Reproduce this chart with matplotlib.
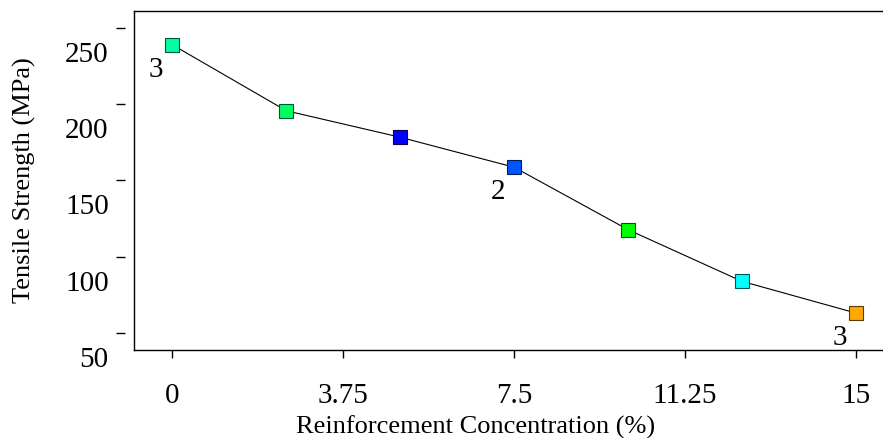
import matplotlib
matplotlib.use("Agg")
import matplotlib.pyplot as plt
import matplotlib.transforms as mtransforms
import matplotlib.colors as mcolors

# data
concentration = [0, 2.5, 5, 7.5, 10, 12.5, 15]
strength = [239.0, 195.7, 178.3, 158.6, 117.6, 83.7, 62.9]
point_colors = ["#00FFA0", "#00FF66", "#0000FF", "#0055FF", "#00FF00", "#00FFFF", "#FFAA00"]
x_ticks = [0, 3.75, 7.5, 11.25, 15]
x_tick_labels = ["0", "3.75", "7.5", "11.25", "15"]
y_ticks = [50, 100, 150, 200, 250]
# replicate counts written next to some points
rep_index = [0, 3, 6]
rep_text = ["3", "2", "3"]

FS = 21
plt.rcParams["font.family"] = ["Liberation Serif", "DejaVu Serif"]

fig = plt.figure(figsize=(8.83, 4.39), dpi=100)
ax = fig.add_axes([134.3 / 883, 1 - 350.5 / 439, 1 - 134.3 / 883, (350.5 - 12.3) / 439])

# connecting line
ax.plot(concentration, strength, color="black", lw=0.8, zorder=2)

# coloured square markers
for x, y, c in zip(concentration, strength, point_colors):
    edge = tuple(v * 0.35 for v in mcolors.to_rgb(c))
    ax.plot(x, y, "s", ms=9.5, mfc=c, mec=edge, mew=0.8, zorder=3)

# replicate labels
for i, t in zip(rep_index, rep_text):
    ax.annotate(t, (concentration[i], strength[i]), xytext=(-16.5, -24),
                textcoords="offset pixels", ha="center", va="center", fontsize=FS)

ax.set_xlim(-0.834, 15.59)
ax.set_ylim(39.0, 260.96)

ax.set_xticks(x_ticks)
ax.set_xticklabels(x_tick_labels)
ax.set_yticks(y_ticks)

ax.spines["right"].set_visible(False)
ax.spines["top"].set_linewidth(1.0)
ax.spines["bottom"].set_linewidth(1.0)
# y ticks sit away from the frame
ax.spines["left"].set_position(("outward", 6.7))
ax.spines["left"].set_visible(False)
ax.plot([0, 0], [0, 1], transform=ax.transAxes, color="black", lw=1.0, clip_on=False)

ax.tick_params(axis="x", direction="out", length=5.5, width=1.0, pad=18, labelsize=FS)
ax.tick_params(axis="y", direction="out", length=6.7, width=1.0, pad=5, labelsize=FS)

# y labels drawn below their ticks
shift = mtransforms.ScaledTranslation(0, -0.23, fig.dpi_scale_trans)
for lab in ax.get_yticklabels():
    lab.set_transform(lab.get_transform() + shift)

ax.set_xlabel("Reinforcement Concentration (%)", fontsize=19, va="center")
ax.set_ylabel("Tensile Strength (MPa)", fontsize=19, va="center")
ax.xaxis.set_label_coords(0.4564, -0.226)
ax.yaxis.set_label_coords(-0.1473, 0.504)

fig.savefig("out.png", dpi=100)
